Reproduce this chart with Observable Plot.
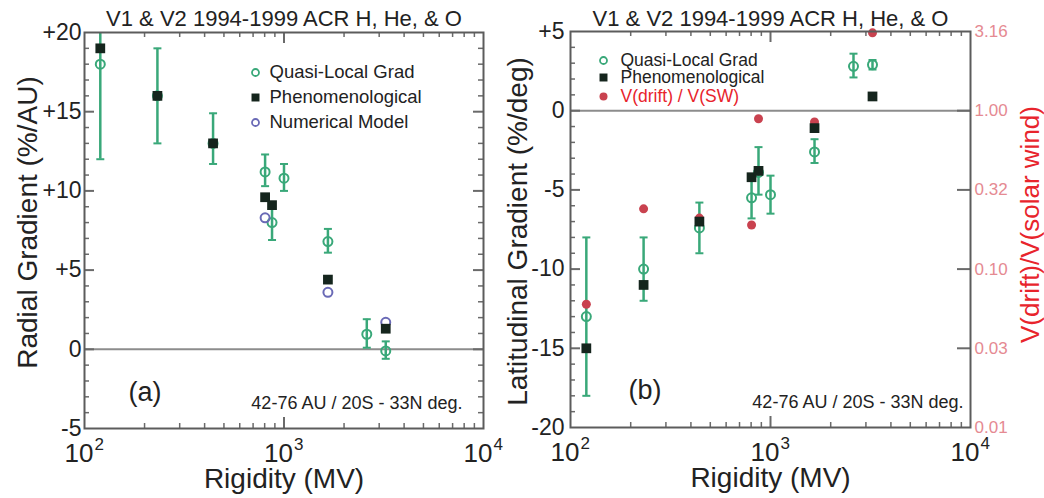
<!DOCTYPE html>
<html><head><meta charset="utf-8">
<script src="https://cdn.jsdelivr.net/npm/d3@7"></script>
<script src="https://cdn.jsdelivr.net/npm/@observablehq/plot@0.6"></script>
<style>
html,body{margin:0;padding:0;background:#fff}
body{width:1044px;height:498px;overflow:hidden;position:relative;font-family:"Liberation Sans",Arial,sans-serif}
#a{position:absolute;left:0;top:0}
#b{position:absolute;left:500px;top:0}
svg{overflow:visible}
</style></head><body><div id="a"></div><div id="b"></div>
<script>
// ---------- text ----------
const titleText = "V1 & V2 1994-1999 ACR H, He, & O";
const xLabel = "Rigidity (MV)";
const yLabelA = "Radial Gradient (%/AU)";
const yLabelB = "Latitudinal Gradient (%/deg)";
const yLabelRight = "V(drift)/V(solar wind)";
const regionNote = "42-76 AU / 20S - 33N deg.";
const panelTags = ["(a)", "(b)"];
const legendA = ["Quasi-Local Grad", "Phenomenological", "Numerical Model"];
const legendB = ["Quasi-Local Grad", "Phenomenological", "V(drift) / V(SW)"];

// ---------- data ----------
const quasiRigidity = [120, 232, 441, 804, 871, 1000, 1660, 2600, 3236];
const radialQuasi   = [18.0, 16.0, 13.0, 11.2, 8.0, 10.8, 6.8, 0.95, -0.1];
const radialQuasiLo = [12.0, 13.0, 11.7, 10.3, 6.9, 10.0, 6.1, 0.1, -0.6];
const radialQuasiHi = [24.0, 19.0, 14.9, 12.3, 9.1, 11.7, 7.6, 1.9, 0.5];

const phenoRigidity = [120, 232, 441, 804, 871, 1660, 3236];
const radialPheno   = [19.0, 16.0, 13.0, 9.6, 9.1, 4.4, 1.3];

const numericalRigidity = [804, 1660, 3236];
const radialNumerical   = [8.3, 3.6, 1.7];

const latQuasi   = [-13.0, -10.0, -7.4, -5.5, -3.9, -5.3, -2.6, 2.8, 2.9];
const latQuasiLo = [-18.0, -12.0, -9.0, -6.8, -5.3, -6.5, -3.3, 2.1, 2.6];
const latQuasiHi = [-8.0, -8.0, -5.8, -4.2, -2.3, -4.1, -1.8, 3.6, 3.2];
const latPheno   = [-15.0, -11.0, -7.0, -4.2, -3.8, -1.1, 0.9];
const driftRatio = [0.060, 0.24, 0.21, 0.19, 0.89, 0.85, 3.1]; // V(drift)/V(SW) at phenoRigidity

// ---------- ticks ----------
const xMajor = [100, 1000, 10000];
const xExponent = ["2", "3", "4"];
const xMinor = [200, 300, 400, 500, 600, 700, 800, 900, 2000, 3000, 4000, 5000, 6000, 7000, 8000, 9000];
const yTicksA = [20, 15, 10, 5, 0, -5];
const yTickLabelsA = ["+20", "+15", "+10", "+5", "0", "-5"];
const yTicksB = [5, 0, -5, -10, -15, -20];
const yTickLabelsB = ["+5", "0", "-5", "-10", "-15", "-20"];
const ratioTicks = [3.1623, 1, 0.31623, 0.1, 0.031623, 0.01];
const ratioTickLabels = ["3.16", "1.00", "0.32", "0.10", "0.03", "0.01"];

// ratio <-> latitudinal-gradient axis link (half a decade per 5 %/deg)
const toLat = r => 10 * Math.log10(r);

// ---------- styles ----------
const FONT = "Liberation Sans, Arial, sans-serif";
const INK = "#222";
const GREEN = "#39a879";
const PHENO = "#15251d";
const NUMER = "#6a6ab6";
const REDDOT = "#c9424f";
const REDTXT = "#e8242c";
const PINK = "#e58a92";
const FRAME = "#5c5c5c";
const TICK = "#6a6a6a";

const capSymbol = {draw(ctx, size) { const r = Math.sqrt(size / Math.PI); ctx.moveTo(-r, 0); ctx.lineTo(r, 0); }};

const zip = (xs, ys, lo, hi) => xs.map((x, i) => ({x, y: ys[i], lo: lo ? lo[i] : null, hi: hi ? hi[i] : null}));

function minorY(domain) {
  const out = [];
  for (let v = Math.ceil(domain[0]); v <= domain[1]; v++) if (v % 5 !== 0) out.push(v);
  return out;
}

function xAxisMarks(fh) {
  return [
    Plot.tickX(xMinor, {x: d => d, insetTop: fh - 5, stroke: TICK, strokeWidth: 1.5}),
    Plot.tickX(xMinor, {x: d => d, insetBottom: fh - 5, stroke: TICK, strokeWidth: 1.5}),
    Plot.tickX(xMajor.slice(1, 2), {x: d => d, insetTop: fh - 11, stroke: TICK, strokeWidth: 2}),
    Plot.tickX(xMajor.slice(1, 2), {x: d => d, insetBottom: fh - 11, stroke: TICK, strokeWidth: 2}),
    Plot.text(xMajor, {x: d => d, text: () => "10", frameAnchor: "bottom", dy: 25, dx: 9, textAnchor: "end", lineAnchor: "middle", fontSize: 26, fill: INK, fontFamily: FONT}),
    Plot.text(xMajor, {x: d => d, text: (d, i) => xExponent[i], frameAnchor: "bottom", dy: 16, dx: 10, textAnchor: "start", lineAnchor: "middle", fontSize: 17, fill: INK, fontFamily: FONT}),
    Plot.text([xLabel], {frameAnchor: "bottom", dy: 51, lineAnchor: "middle", fontSize: 28, fill: INK, fontFamily: FONT})
  ];
}

function legendText(labels, i, dx, dy, fontSize, fill) {
  return Plot.text([labels[i]], {frameAnchor: "top-left", dx, dy, textAnchor: "start", lineAnchor: "middle", fontSize, fill, fontFamily: FONT});
}

// ---------- panel (a) ----------
{
  const W = 500, H = 498, mL = 84, mR = 17, mT = 32, mB = 70;
  const fw = W - mL - mR, fh = H - mT - mB;
  const domain = [-5, 20];
  const quasi = zip(quasiRigidity, radialQuasi, radialQuasiLo, radialQuasiHi);
  const pheno = zip(phenoRigidity, radialPheno);
  const numer = zip(numericalRigidity, radialNumerical);
  const ymin = minorY(domain);
  const ymaj = yTicksA.filter(v => v > domain[0] && v < domain[1]);
  const chart = Plot.plot({
    width: W, height: H, marginLeft: mL, marginRight: mR, marginTop: mT, marginBottom: mB,
    style: {fontFamily: FONT, background: "white", overflow: "visible"},
    x: {type: "log", domain: [100, 10000], axis: null},
    y: {domain, axis: null},
    marks: [
      Plot.ruleY([0], {stroke: "#8c8c8c", strokeWidth: 2}),
      ...xAxisMarks(fh),
      Plot.tickY(ymin, {y: d => d, insetRight: fw - 5, stroke: TICK, strokeWidth: 1.5}),
      Plot.tickY(ymaj, {y: d => d, insetRight: fw - 10, stroke: TICK, strokeWidth: 2}),
      Plot.tickY(ymin, {y: d => d, insetLeft: fw - 5, stroke: TICK, strokeWidth: 1.5}),
      Plot.tickY(ymaj, {y: d => d, insetLeft: fw - 10, stroke: TICK, strokeWidth: 2}),
      Plot.axisY({ticks: yTicksA, tickFormat: d => yTickLabelsA[yTicksA.indexOf(d)], tickSize: 0, tickPadding: 3, fontSize: 23, fill: INK, label: null}),
      Plot.text([yLabelA], {frameAnchor: "left", dx: -56, dy: -8, rotate: -90, textAnchor: "middle", lineAnchor: "middle", fontSize: 28, fill: INK, fontFamily: FONT}),
      Plot.text([titleText], {frameAnchor: "top", dy: -14, lineAnchor: "middle", fontSize: 22, fill: INK, fontFamily: FONT}),
      // error bars
      Plot.ruleX(quasi, {x: "x", y1: "lo", y2: "hi", stroke: GREEN, strokeWidth: 2.5, clip: true}),
      Plot.dot(quasi, {x: "x", y: "lo", symbol: capSymbol, r: 4, stroke: GREEN, fill: "none", strokeWidth: 2, clip: true}),
      Plot.dot(quasi, {x: "x", y: "hi", symbol: capSymbol, r: 4, stroke: GREEN, fill: "none", strokeWidth: 2, clip: true}),
      Plot.dot(quasi, {x: "x", y: "y", r: 4.5, stroke: GREEN, fill: "none", strokeWidth: 2}),
      Plot.dot(numer, {x: "x", y: "y", r: 4.5, stroke: NUMER, fill: "none", strokeWidth: 2}),
      Plot.dot(pheno, {x: "x", y: "y", symbol: "square", r: 5.5, fill: PHENO}),
      // legend
      Plot.dot([legendA[0]], {frameAnchor: "top-left", dx: 171, dy: 40, r: 3.5, stroke: GREEN, fill: "none", strokeWidth: 1.8}),
      Plot.dot([legendA[1]], {frameAnchor: "top-left", dx: 171, dy: 65, symbol: "square", r: 4.5, fill: PHENO}),
      Plot.dot([legendA[2]], {frameAnchor: "top-left", dx: 171, dy: 90, r: 3.5, stroke: NUMER, fill: "none", strokeWidth: 1.8}),
      legendText(legendA, 0, 185, 40, 18.5, INK),
      legendText(legendA, 1, 185, 65, 18.5, INK),
      legendText(legendA, 2, 185, 90, 18.5, INK),
      Plot.text([regionNote], {frameAnchor: "bottom-right", dx: -21, dy: -25, textAnchor: "end", lineAnchor: "middle", fontSize: 18, fill: INK, fontFamily: FONT}),
      Plot.text([panelTags[0]], {frameAnchor: "bottom-left", dx: 44, dy: -36, lineAnchor: "middle", fontSize: 27, fill: INK, fontFamily: FONT}),
      Plot.frame({stroke: FRAME, strokeWidth: 2})
    ]
  });
  document.getElementById("a").append(chart);
}

// ---------- panel (b) ----------
{
  const W = 544, H = 498, mL = 70, mR = 74, mT = 31, mB = 71;
  const fw = W - mL - mR, fh = H - mT - mB;
  const domain = [-20, 5];
  const quasi = zip(quasiRigidity, latQuasi, latQuasiLo, latQuasiHi);
  const pheno = zip(phenoRigidity, latPheno);
  const drift = zip(phenoRigidity, driftRatio);
  const ymin = minorY(domain);
  const ymaj = yTicksB.filter(v => v > domain[0] && v < domain[1]);
  const ratioPos = ratioTicks.map(toLat);
  const chart = Plot.plot({
    width: W, height: H, marginLeft: mL, marginRight: mR, marginTop: mT, marginBottom: mB,
    style: {fontFamily: FONT, background: "transparent", overflow: "visible"},
    x: {type: "log", domain: [100, 10000], axis: null},
    y: {domain, axis: null},
    marks: [
      Plot.ruleY([0], {stroke: "#8c8c8c", strokeWidth: 2}),
      ...xAxisMarks(fh),
      Plot.tickY(ymin, {y: d => d, insetRight: fw - 5, stroke: TICK, strokeWidth: 1.5}),
      Plot.tickY(ymaj, {y: d => d, insetRight: fw - 10, stroke: TICK, strokeWidth: 2}),
      Plot.tickY(ratioTicks.slice(1, -1), {y: d => toLat(d), insetLeft: fw - 13, stroke: TICK, strokeWidth: 2}),
      Plot.axisY({ticks: yTicksB, tickFormat: d => yTickLabelsB[yTicksB.indexOf(d)], tickSize: 0, tickPadding: 6, fontSize: 23, fill: INK, label: null}),
      Plot.axisY({anchor: "right", ticks: ratioPos, tickFormat: d => ratioTickLabels[ratioPos.indexOf(d)], tickSize: 0, tickPadding: 4, fontSize: 17, fill: PINK, label: null}),
      Plot.text([yLabelB], {frameAnchor: "left", dx: -52, dy: 2, rotate: -90, textAnchor: "middle", lineAnchor: "middle", fontSize: 28, fill: INK, fontFamily: FONT}),
      Plot.text([yLabelRight], {frameAnchor: "right", dx: 60, dy: -5, rotate: -90, textAnchor: "middle", lineAnchor: "middle", fontSize: 26, fill: REDTXT, fontFamily: FONT}),
      Plot.text([titleText], {frameAnchor: "top", dy: -13, lineAnchor: "middle", fontSize: 22, fill: INK, fontFamily: FONT}),
      // error bars
      Plot.ruleX(quasi, {x: "x", y1: "lo", y2: "hi", stroke: GREEN, strokeWidth: 2.5, clip: true}),
      Plot.dot(quasi, {x: "x", y: "lo", symbol: capSymbol, r: 4, stroke: GREEN, fill: "none", strokeWidth: 2}),
      Plot.dot(quasi, {x: "x", y: "hi", symbol: capSymbol, r: 4, stroke: GREEN, fill: "none", strokeWidth: 2}),
      Plot.dot(quasi, {x: "x", y: "y", r: 4.5, stroke: GREEN, fill: "none", strokeWidth: 2}),
      Plot.dot(drift, {x: "x", y: d => toLat(d.y), r: 4.5, fill: REDDOT}),
      Plot.dot(pheno, {x: "x", y: "y", symbol: "square", r: 5.5, fill: PHENO}),
      // legend
      Plot.dot([legendB[0]], {frameAnchor: "top-left", dx: 33, dy: 29, r: 3.5, stroke: GREEN, fill: "none", strokeWidth: 1.8}),
      Plot.dot([legendB[1]], {frameAnchor: "top-left", dx: 33, dy: 46, symbol: "square", r: 4.5, fill: PHENO}),
      Plot.dot([legendB[2]], {frameAnchor: "top-left", dx: 33, dy: 65, r: 4, fill: REDDOT}),
      legendText(legendB, 0, 50, 29, 17.5, INK),
      legendText(legendB, 1, 50, 46, 17.5, INK),
      legendText(legendB, 2, 50, 65, 17.5, REDTXT),
      Plot.text([regionNote], {frameAnchor: "bottom-right", dx: -7, dy: -25, textAnchor: "end", lineAnchor: "middle", fontSize: 18, fill: INK, fontFamily: FONT}),
      Plot.text([panelTags[1]], {frameAnchor: "bottom-left", dx: 58, dy: -37, lineAnchor: "middle", fontSize: 27, fill: INK, fontFamily: FONT}),
      Plot.frame({stroke: FRAME, strokeWidth: 2})
    ]
  });
  document.getElementById("b").append(chart);
}
</script>
</body></html>
